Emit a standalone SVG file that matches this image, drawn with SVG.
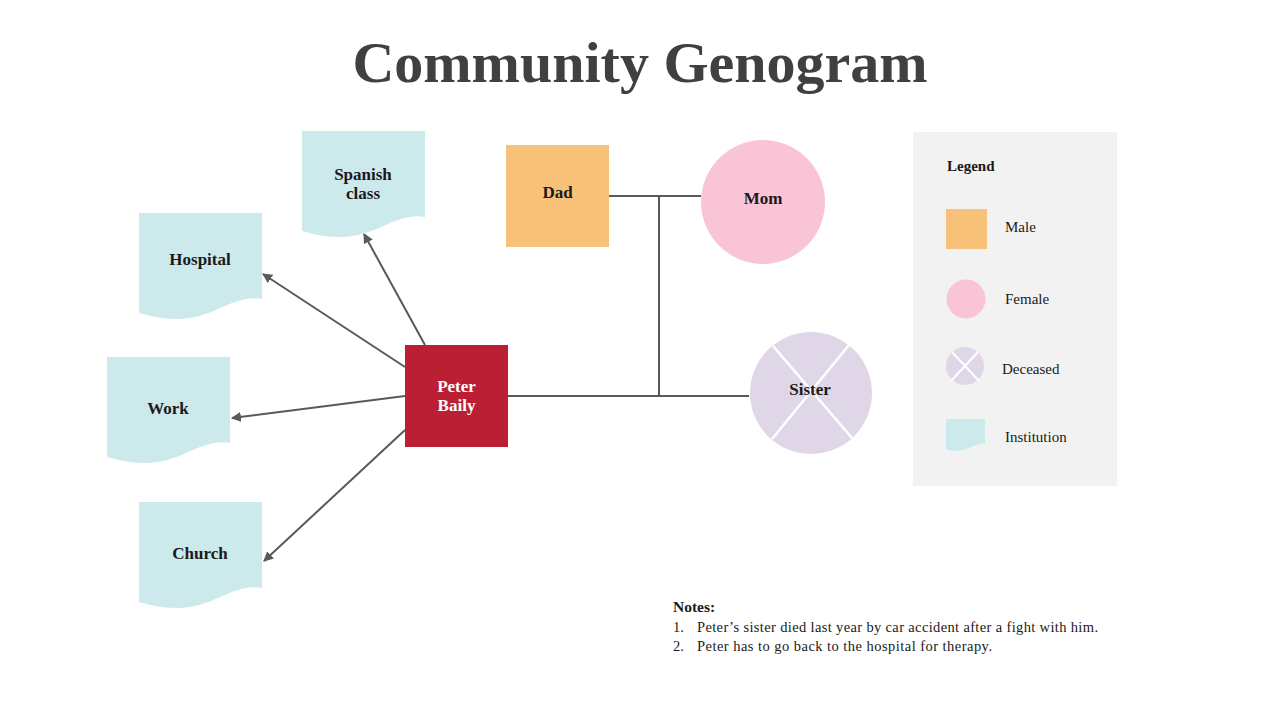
<svg xmlns="http://www.w3.org/2000/svg" width="1280" height="720" viewBox="0 0 1280 720">
<defs>
<style>
.t{font-family:"Liberation Serif","DejaVu Serif",serif;fill:#1a1a1a}
.b{font-weight:bold;font-size:17px;text-anchor:middle}
.inst{fill:#CCE9EB}
.conn{stroke:#595959;stroke-width:2;fill:none}
.arr{stroke:#595959;stroke-width:2;fill:none;marker-end:url(#ah)}
.leg{font-size:15px}
.x{stroke:#fff;stroke-width:2.5}
</style>
<marker id="ah" viewBox="0 0 10 10" refX="9" refY="5" markerWidth="5" markerHeight="5" orient="auto" markerUnits="strokeWidth">
<path d="M0,0 L10,5 L0,10 Z" fill="#595959"/>
</marker>
</defs>
<rect width="1280" height="720" fill="#fff"/>
<text class="t" x="640" y="82" text-anchor="middle" font-size="58" font-weight="bold" fill="#404040" style="fill:#404040">Community Genogram</text>

<g id="connectors">
<path class="conn" d="M609,196 H701"/>
<path class="conn" d="M659,196 V396"/>
<path class="conn" d="M508,396 H749"/>
<path class="arr" d="M425,345 L364,234"/>
<path class="arr" d="M405,367 L263,274"/>
<path class="arr" d="M405,396 L232,418"/>
<path class="arr" d="M405,430 L264,561"/>
</g>

<g id="spanish">
<path class="inst" d="M302,131 H425 V217 C395,212 378,237 340,237 C325,237 313,234 302,231 Z"/>
<text class="t b" x="363" y="180">Spanish</text>
<text class="t b" x="363" y="199">class</text>
</g>
<g id="hospital">
<path class="inst" d="M139,213 H262 V299 C232,294 215,319 177,319 C162,319 150,316 139,313 Z"/>
<text class="t b" x="200" y="265">Hospital</text>
</g>
<g id="work">
<path class="inst" d="M107,357 H230 V443 C200,438 183,463 145,463 C130,463 118,460 107,457 Z"/>
<text class="t b" x="168" y="414">Work</text>
</g>
<g id="church">
<path class="inst" d="M139,502 H262 V588 C232,583 215,608 177,608 C162,608 150,605 139,602 Z"/>
<text class="t b" x="200" y="559">Church</text>
</g>

<g id="peter">
<rect x="405" y="345" width="103" height="102" fill="#BB1F33"/>
<text class="t b" x="456.5" y="392" style="fill:#fff">Peter</text>
<text class="t b" x="456.5" y="411" style="fill:#fff">Baily</text>
</g>
<g id="dad">
<rect x="506" y="145" width="103" height="102" fill="#F7C17A"/>
<text class="t b" x="557.5" y="198">Dad</text>
</g>
<g id="mom">
<circle cx="763" cy="202" r="62" fill="#FAC4D7"/>
<text class="t b" x="763" y="204">Mom</text>
</g>
<g id="sister">
<circle cx="811" cy="393" r="61" fill="#DFD7E8"/>
<line class="x" x1="773" y1="346" x2="852" y2="438"/>
<line class="x" x1="849" y1="345" x2="772" y2="439"/>
<text class="t b" x="810" y="395">Sister</text>
</g>

<g id="legend">
<rect x="913" y="132" width="204" height="354" fill="#F2F2F2"/>
<text class="t" x="947" y="171" font-size="15" font-weight="bold">Legend</text>
<rect x="946" y="209" width="41" height="40" fill="#F7C17A"/>
<text class="t leg" x="1005" y="232">Male</text>
<circle cx="966" cy="299" r="19.5" fill="#FAC4D7"/>
<text class="t leg" x="1005" y="304">Female</text>
<circle cx="965" cy="366" r="19" fill="#DFD7E8"/>
<line class="x" x1="952" y1="352" x2="979" y2="381" style="stroke-width:2"/>
<line class="x" x1="978" y1="352" x2="951" y2="381" style="stroke-width:2"/>
<text class="t leg" x="1002" y="374">Deceased</text>
<path class="inst" d="M946,419 H985 V444 C975,442 968,451 955,451 C951,451 948,450 946,449 Z"/>
<text class="t leg" x="1005" y="442">Institution</text>
</g>

<g id="notes">
<text class="t" x="673" y="612" font-size="15.5" font-weight="bold">Notes:</text>
<text class="t" x="673" y="632" font-size="14.5">1.</text>
<text class="t" x="697" y="632" font-size="14.5" textLength="401">Peter’s sister died last year by car accident after a fight with him.</text>
<text class="t" x="673" y="651" font-size="14.5">2.</text>
<text class="t" x="697" y="651" font-size="14.5" textLength="295">Peter has to go back to the hospital for therapy.</text>
</g>
</svg>
